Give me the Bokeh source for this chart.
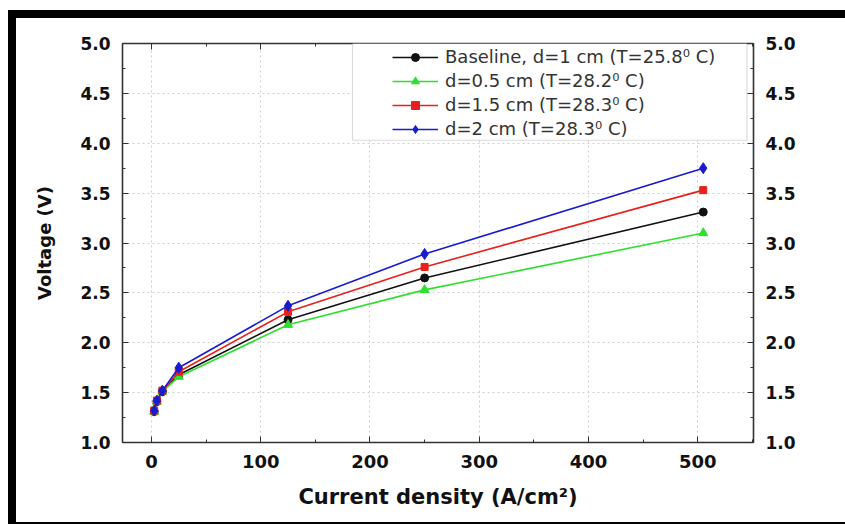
from bokeh.plotting import figure
from bokeh.models import (Range1d, LinearAxis, SingleIntervalTicker, Legend, LegendItem,
                          BoxAnnotation, PrintfTickFormatter, Div, Spacer)
from bokeh.layouts import column, row
from bokeh.embed import file_html
from bokeh.resources import INLINE

# ---- data ----
current = [2.5, 5, 10, 25, 125, 250, 505]
v_baseline = [1.31, 1.41, 1.51, 1.68, 2.23, 2.65, 3.31]
v_d05 = [1.31, 1.41, 1.51, 1.66, 2.18, 2.53, 3.10]
v_d15 = [1.32, 1.42, 1.52, 1.71, 2.31, 2.76, 3.53]
v_d2 = [1.32, 1.42, 1.52, 1.75, 2.37, 2.89, 3.75]
series_labels = ["Baseline, d=1 cm (T=25.8\u2070 C)", "d=0.5 cm (T=28.2\u2070 C)",
                 "d=1.5 cm (T=28.3\u2070 C)", "d=2 cm (T=28.3\u2070 C)"]
x_label = "Current density (A/cm\u00b2)"
y_label = "Voltage (V)"

series = [
    (v_baseline, "#111111", "circle", 8),
    (v_d05, "#2ee02e", "triangle", 9),
    (v_d15, "#e8201c", "square", 7),
    (v_d2, "#1a1ad0", "diamond", 11),
]

PW, PH = 829, 504
p = figure(width=PW, height=PH, output_backend="svg", toolbar_location=None,
           x_range=Range1d(-26.5, 551), y_range=Range1d(1.0, 5.0),
           min_border_left=106, min_border_right=92, min_border_top=25, min_border_bottom=80,
           background_fill_color="white", border_fill_color="white", margin=0)
p.outline_line_color = None

xt = SingleIntervalTicker(interval=100, num_minor_ticks=2)
yt = SingleIntervalTicker(interval=0.5, num_minor_ticks=2)

def style_axis(ax, labels=True):
    ax.axis_line_color = "#333333"
    ax.axis_line_width = 1.6
    ax.major_tick_in = 6
    ax.major_tick_out = 0
    ax.minor_tick_in = 3
    ax.minor_tick_out = 0
    ax.major_tick_line_color = "#333333"
    ax.minor_tick_line_color = "#333333"
    ax.major_label_text_font = "DejaVu Sans"
    ax.major_label_text_font_style = "bold"
    ax.major_label_text_color = "#111111"
    ax.axis_label_text_font = "DejaVu Sans"
    ax.axis_label_text_font_style = "bold"
    ax.axis_label_text_color = "#111111"
    if not labels:
        ax.major_label_text_font_size = "0px"
        ax.major_label_text_alpha = 0

# bottom
xa = p.xaxis[0]
xa.ticker = xt
style_axis(xa)
xa.major_label_text_font_size = "18px"
xa.major_label_standoff = 12
xa.axis_label = x_label
xa.axis_label_text_font_size = "21px"
xa.axis_label_standoff = 14

# left
ya = p.yaxis[0]
ya.ticker = yt
ya.formatter = PrintfTickFormatter(format="%.1f")
style_axis(ya)
ya.major_label_text_font_size = "17px"
ya.major_label_standoff = 12
ya.axis_label = y_label
ya.axis_label_text_font_size = "18px"
ya.axis_label_standoff = 22

# right
ra = LinearAxis(ticker=yt, formatter=PrintfTickFormatter(format="%.1f"))
style_axis(ra)
ra.major_label_text_font_size = "17px"
ra.major_label_standoff = 12
p.add_layout(ra, "right")

# top
ta = LinearAxis(ticker=xt)
style_axis(ta, labels=False)
p.add_layout(ta, "above")

for g in (p.xgrid[0], p.ygrid[0]):
    g.grid_line_color = "#cfcfcf"
    g.grid_line_dash = "2 3"
    g.grid_line_width = 1
p.xgrid[0].ticker = xt
p.ygrid[0].ticker = yt

items = []
for (vals, col, mk, sz), lab in zip(series, series_labels):
    l = p.line(current, vals, line_color=col, line_width=1.6)
    s = p.scatter(current, vals, marker=mk, size=sz, fill_color=col, line_color=col)
    items.append(LegendItem(label=lab, renderers=[l, s]))

# legend frame
p.add_layout(BoxAnnotation(left=184, right=545, top=5.0, bottom=4.03,
                           fill_color="white", fill_alpha=1,
                           line_color="#8a8a8a", line_width=1.2))

legend = Legend(items=items, location=(264, 297), border_line_alpha=0,
                background_fill_alpha=0, label_text_font="DejaVu Sans",
                label_text_font_size="18px", label_text_color="#333333",
                glyph_width=46, glyph_height=20, label_height=20, spacing=3,
                padding=6, label_standoff=7, margin=0)
p.add_layout(legend)

# black picture frame around the chart (left, top, bottom bands)
blk = {"background-color": "black"}
def band(w, h):
    return Div(text="", width=w, height=h, styles=blk, margin=0)

page = column(
    Spacer(width=845, height=10, margin=0),
    row(Spacer(width=8, height=8, margin=0), band(837, 8), spacing=0, margin=0),
    row(Spacer(width=8, height=PH, margin=0), band(8, PH), p, spacing=0, margin=0),
    row(Spacer(width=8, height=2, margin=0), band(837, 2), spacing=0, margin=0),
    spacing=0, margin=0,
)

open("out.html", "w").write(file_html(page, INLINE))
